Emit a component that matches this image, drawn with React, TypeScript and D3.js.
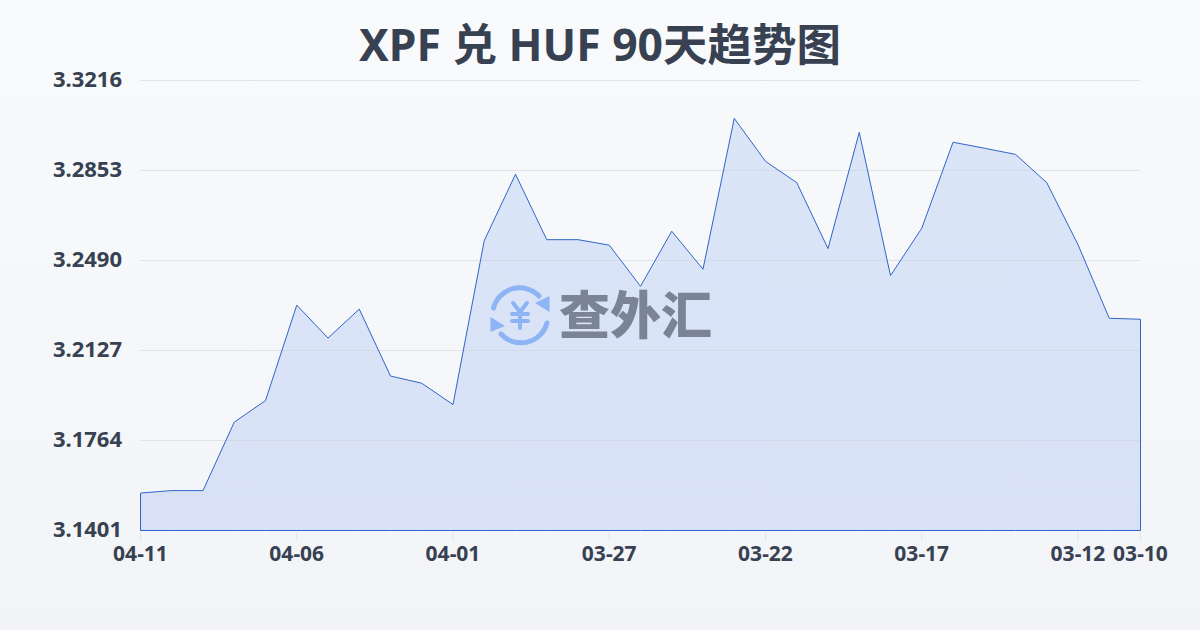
import React from "react";
import * as d3 from "d3";

const dates = ["04-11","04-10","04-09","04-08","04-07","04-06","04-05","04-04","04-03","04-02","04-01","03-31","03-30","03-29","03-28","03-27","03-26","03-25","03-24","03-23","03-22","03-21","03-20","03-19","03-18","03-17","03-16","03-15","03-14","03-13","03-12","03-11","03-10"];
const rates = [3.1552,3.1562,3.1562,3.1838,3.1925,3.2310,3.2177,3.2294,3.2024,3.1995,3.1909,3.2570,3.2838,3.2574,3.2574,3.2552,3.2386,3.2608,3.2455,3.3063,3.2890,3.2804,3.2538,3.3007,3.2429,3.2620,3.2967,3.2943,3.2918,3.2804,3.2554,3.2257,3.2253];
const yTicks = [3.1401,3.1764,3.2127,3.2490,3.2853,3.3216];
const xTickLabels = ["04-11","04-06","04-01","03-27","03-22","03-17","03-12","03-10"];
const titleText = "XPF 兑 HUF 90天趋势图";
const brandText = "查外汇";

const FONT = "'Noto Sans','Noto Sans CJK SC',sans-serif";
const INK = "#374151";

export default function App() {
  const x = d3.scalePoint<string>().domain(dates).range([140.5, 1140.5]);
  const y = d3.scaleLinear().domain([3.1401, 3.3216]).range([530.5, 80.5]);
  const area = d3.area<number>()
    .x((_, i) => x(dates[i]) as number)
    .y0(y(3.1401))
    .y1((d) => y(d));
  return (
    <svg width={1200} height={630} viewBox="0 0 1200 630" style={{ position: "absolute", left: 0, top: 0, display: "block" }}>
      <defs>
        <linearGradient id="bg" x1="0" y1="0" x2="0" y2="1">
          <stop offset="0" stopColor="#f8fafc" />
          <stop offset="1" stopColor="#f2f4f7" />
        </linearGradient>
        <linearGradient id="fill" x1="0" y1="0" x2="0" y2="1">
          <stop offset="0" stopColor="#dbe5f8" />
          <stop offset="1" stopColor="#d8e1f5" />
        </linearGradient>
      </defs>
      <rect width={1200} height={630} fill="url(#bg)" />
      <text x={600} y={61} textAnchor="middle" fontFamily={FONT} fontWeight={700} fontSize={44.5} fill={INK}>{titleText}</text>
      <path d={area(rates) as string} fill="url(#fill)" />
      {yTicks.map((t) => (
        <g key={t}>
          <line x1={140} x2={1140} y1={y(t)} y2={y(t)} stroke="#cdd2da" strokeOpacity={0.55} strokeWidth={1} />
          <text x={122} y={y(t) + 6} textAnchor="end" fontFamily={FONT} fontWeight={700} fontSize={22} fill={INK}>{t.toFixed(4)}</text>
        </g>
      ))}
      <path d={area(rates) as string} fill="none" stroke="#2f65c8" strokeWidth={1} />
      {xTickLabels.map((l) => (
        <g key={l}>
          <line x1={x(l)} x2={x(l)} y1={531} y2={541} stroke="#e2e5ea" strokeWidth={1} />
          <text x={x(l)} y={561} textAnchor="middle" fontFamily={FONT} fontWeight={700} fontSize={21} fill={INK}>{l}</text>
        </g>
      ))}
      <g>
        <g fill="none" stroke="#8db4f5" strokeWidth={5} strokeLinecap="round">
          <path d="M 493.5 308 A 27 27 0 0 1 539 296" />
          <path d="M 547 323 A 27 27 0 0 1 501 334" />
        </g>
        <path d="M 549.5 296 L 549.5 312 L 535 303 Z" fill="#8db4f5" />
        <path d="M 490.5 317 L 490.5 332 L 505 326 Z" fill="#8db4f5" />
        <g fill="none" stroke="#8db4f5" strokeWidth={4} strokeLinecap="round" strokeLinejoin="round">
          <path d="M 513 303 L 520 312 L 527 303" />
          <path d="M 520 312 L 520 328" />
          <path d="M 512 314 L 528 314" />
          <path d="M 512 321 L 528 321" />
        </g>
        <text x={559} y={334} fontFamily="'Noto Sans CJK SC',sans-serif" fontWeight={900} fontSize={51} fill="#7a8495" textLength={153} lengthAdjust="spacingAndGlyphs">{brandText}</text>
      </g>
    </svg>
  );
}
